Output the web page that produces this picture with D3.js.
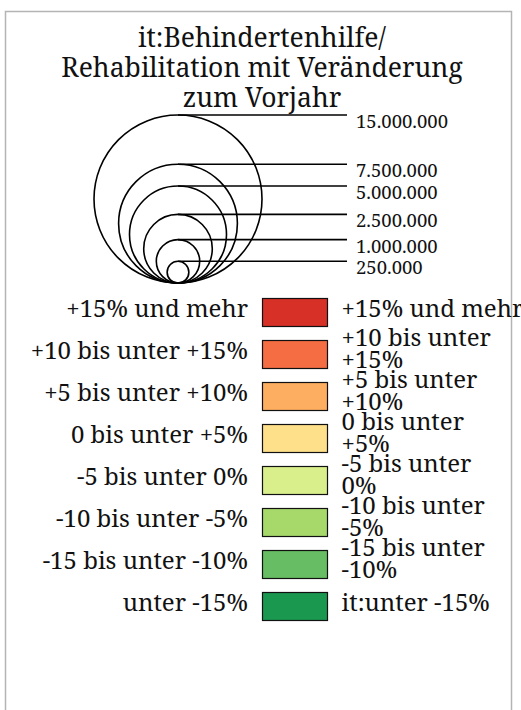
<!DOCTYPE html>
<html>
<head>
<meta charset="utf-8">
<script src="https://cdn.jsdelivr.net/npm/d3@7/dist/d3.min.js"></script>
<style>
  html, body { margin: 0; padding: 0; background: #fff; }
  svg { display: block; font-family: "Noto Serif", "Droid Serif", "DejaVu Serif", serif; }
</style>
</head>
<body>
<script>
const titleLines = ["it:Behindertenhilfe/", "Rehabilitation mit Veränderung", "zum Vorjahr"];
const bubbleValues = [15000000, 7500000, 5000000, 2500000, 1000000, 250000];
const classColors = ["#d73027", "#f46d43", "#fdae61", "#fee08b", "#d9ef8b", "#a6d96a", "#66bd63", "#1a9850"];
const leftLabels = ["+15% und mehr", "+10 bis unter +15%", "+5 bis unter +10%", "0 bis unter +5%",
  "-5 bis unter 0%", "-10 bis unter -5%", "-15 bis unter -10%", "unter -15%"];
const rightLabels = ["+15% und mehr", "+10 bis unter +15%", "+5 bis unter +10%", "0 bis unter +5%",
  "-5 bis unter 0%", "-10 bis unter -5%", "-15 bis unter -10%", "it:unter -15%"];

const W = 521, H = 710;
const svg = d3.select("body").append("svg").attr("width", W).attr("height", H);

// frame
svg.append("rect")
  .attr("x", 5.5).attr("y", 11.5).attr("width", 506).attr("height", 720)
  .attr("fill", "none").attr("stroke", "#b4b4b4").attr("stroke-width", 1.5);

// title
svg.append("text")
  .attr("text-anchor", "middle")
  .attr("font-size", 26.5)
  .attr("fill", "#111")
  .selectAll("tspan").data(titleLines).join("tspan")
  .attr("x", 262)
  .attr("y", (d, i) => 47 + i * 30)
  .text(d => d);

// bubble size legend
const de = d3.formatLocale({decimal: ",", thousands: ".", grouping: [3], currency: ["", " €"]});
const fmt = de.format(",d");
const r = d3.scaleSqrt().domain([0, d3.max(bubbleValues)]).range([0, 84]);
const cx = 178, baseY = 283, lineEnd = 347;
const bub = svg.append("g");
bub.selectAll("circle").data(bubbleValues).join("circle")
  .attr("cx", cx).attr("cy", d => baseY - r(d)).attr("r", d => r(d))
  .attr("fill", "none").attr("stroke", "#000").attr("stroke-width", 1.6);
bub.selectAll("line").data(bubbleValues).join("line")
  .attr("x1", cx).attr("x2", lineEnd)
  .attr("y1", d => baseY - 2 * r(d)).attr("y2", d => baseY - 2 * r(d))
  .attr("stroke", "#000").attr("stroke-width", 1.6);
bub.selectAll("text").data(bubbleValues).join("text")
  .attr("x", 356).attr("y", d => baseY - 2 * r(d) + 13)
  .attr("font-size", 18.5).attr("fill", "#111")
  .text(d => fmt(d));

// colour legend
const y = d3.scaleBand().domain(d3.range(classColors.length)).range([298, 298 + 42 * 8]).paddingInner(0);
const leg = svg.append("g");
const rows = leg.selectAll("g").data(classColors).join("g")
  .attr("transform", (d, i) => `translate(0,${y(i)})`);
rows.append("rect")
  .attr("x", 262.5).attr("y", 0.5).attr("width", 65).attr("height", 28)
  .attr("fill", d => d).attr("stroke", "#111").attr("stroke-width", 1.2);
rows.append("text")
  .attr("x", 248).attr("y", 18.5)
  .attr("text-anchor", "end").attr("font-size", 24).attr("fill", "#111")
  .text((d, i) => leftLabels[i]);
rows.append("text")
  .attr("font-size", 24).attr("fill", "#111")
  .each(function(d, i) {
    const words = rightLabels[i].split(" ");
    const lines = words.length > 3 ? [words.slice(0, 3).join(" "), words.slice(3).join(" ")] : [words.join(" ")];
    const y0 = 18.5 - (lines.length - 1) * 13;
    d3.select(this).selectAll("tspan").data(lines).join("tspan")
      .attr("x", 341.5).attr("y", (t, j) => y0 + j * 22).text(t => t);
  });
</script>
</body>
</html>
